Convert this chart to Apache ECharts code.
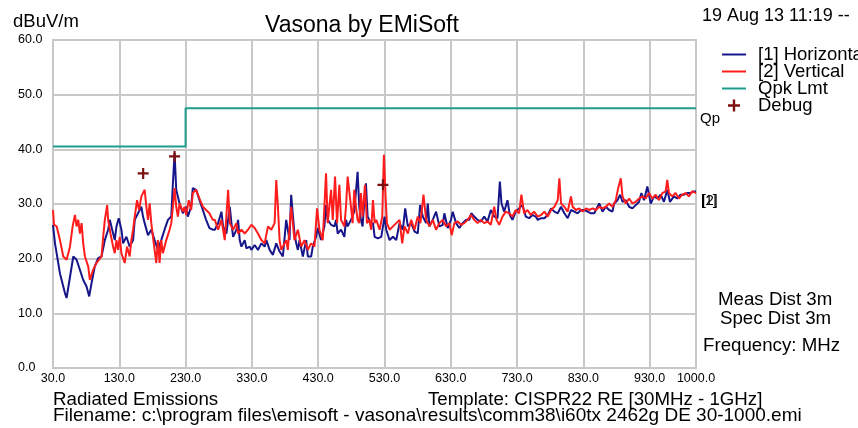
<!DOCTYPE html>
<html>
<head>
<meta charset="utf-8">
<script src="https://cdn.jsdelivr.net/npm/echarts@6/dist/echarts.min.js"></script>
<style>html,body{margin:0;padding:0;background:#fff}#c{width:858px;height:428px}</style>
</head>
<body>
<div id="c"></div>
<script>
// ---- data (frequency MHz, level dBuV/m) ----
const horizontalData = [[30,26.2],[33,22.8],[40.5,17.3],[48,13.7],[50.5,12.8],[60.6,20.4],[65.6,19.8],[75.6,16.1],[80.6,14.9],[84.6,13.1],[88.1,15.5],[93.1,18.6],[98.1,20.1],[103.2,20.4],[108.2,23.4],[113.2,25.3],[115.7,27.1],[120.7,24.6],[123.2,23.4],[125.7,25.9],[129.2,27.4],[133.2,25.3],[135.7,22.8],[140.7,24.0],[145.7,22.2],[150.8,23.4],[153.3,27.1],[158.3,28.3],[163.3,29.5],[165.8,27.7],[168.3,26.5],[173.3,24.3],[178.3,25.3],[183.3,23.4],[188.3,21.6],[193.3,23.4],[198.3,25.3],[203.4,27.1],[208.4,27.7],[210.9,33.8],[213.4,39.3],[215.9,32.6],[220.9,30.1],[225.9,28.3],[230.9,29.5],[233.4,27.7],[238.4,29.5],[240.9,32.9],[245.9,32.6],[251,30.7],[256,28.9],[261,27.1],[266,25.6],[271,25.3],
[274.1,25.3],[279.1,26.5],[284.1,28.6],[286.6,25.9],[291.6,24.6],[296.7,29.5],[299.2,26.5],[301.7,24.0],[306.7,25.3],[309.2,27.1],[311.7,23.4],[314.2,22.2],[319.2,23.4],[321.7,21.9],[326.7,22.2],[329.2,21.6],[334.2,22.5],[339.2,21.6],[344.3,22.8],[349.3,22.2],[351.8,23.4],[356.8,21.6],[361.8,20.7],[366.8,22.8],[371.8,21.3],[376.8,20.4],[381.8,27.1],[386.8,23.4],[389.3,31.7],[391.8,28.0],[394.3,24.6],[396.9,22.8],[399.4,21.6],[401.9,23.4],[406.9,20.4],[411.9,23.4],[414.4,20.4],[419.4,20.4],[421.9,22.2],[426.9,24.0],[429.4,25.6],[434.4,23.4],[439.4,25.9],[441.9,29.8],[444.4,27.1],[449.5,26.2],[454.5,25.9],[457,27.1],[459.5,24.6],[464.5,25.3],[469.5,24.0],[472,27.1],[474.5,25.9],[479.5,27.1],[484.5,28.6],[489.5,35.9],[492,29.5],[494.5,27.1],[497,25.9],[499.6,30.4],[502.1,33.8],[504.6,27.7],[509.6,26.5],
[512.7,26.5],[515.2,24.0],[520.2,23.7],[525.2,24.0],[530.2,27.7],[532.7,25.3],[537.8,23.4],[542.8,24.0],[547.8,23.4],[552.8,26.5],[557.8,25.3],[561.3,29.2],[565.3,25.9],[570.3,26.5],[575.3,25.0],[580.3,24.6],[583.8,29.8],[587.9,27.7],[592.9,26.5],[595.4,30.1],[597.9,25.9],[602.9,27.1],[607.9,28.6],[610.4,28.9],[612.9,25.9],[617.9,26.2],[620.4,28.3],[625.4,25.6],[630.4,27.1],[633,28.6],[638,26.5],[643,25.6],[648,26.5],[653,27.1],[658,27.1],[661,28.3],[665.5,27.7],[670.5,27.1],[675.5,26.8],[680.5,27.7],[685.5,26.8],[690.5,28.9],[695.6,27.7],[700.6,27.4],[704.1,34.1],[706.6,30.1],[710.6,28.6],[715.6,30.7],[719.1,28.0],[723.1,27.1],[728.1,28.6],[733.1,29.2],[738.2,29.8],[743.2,27.7],[748.2,27.4],[753.2,28.0],[758.2,27.7],
[761.3,27.1],[766.3,27.4],[771.3,27.4],[776.3,28.0],[781.4,29.2],[786.4,28.6],[791.4,28.3],[796.4,29.5],[801.4,28.3],[806.4,27.4],[811.4,28.9],[816.4,28.6],[821.4,28.3],[826.4,28.9],[831.5,28.9],[836.5,28.6],[841.5,28.3],[846.5,28.3],[854,30.1],[859,28.6],[864,29.5],[869,28.9],[874,28.6],[876.5,30.1],[881.6,30.7],[885.6,31.7],[889.1,30.4],[894.1,30.7],[899.1,29.5],[904.1,29.2],[909.1,29.8],[914.1,30.4],[917.6,32.0],[921.6,30.7],[926.6,33.2],[931.7,30.1],[936.7,31.4],[941.7,31.0],[946.7,31.7],[951.7,30.4],[956.7,32.6],[960.7,30.4],[966.7,31.4],[971.7,31.0],[976.7,31.7],[981.8,31.7],[986.8,32.0],[991.8,32.0],[995.8,32.3],[1000,32.3]];

const verticalData = [[30,28.9],[31.5,26.2],[35.5,25.9],[40.5,23.4],[45.5,20.4],[50.5,19.8],[55.6,22.2],[59.6,25.9],[63.1,28.0],[65.6,25.9],[68.1,27.1],[70.6,24.6],[73.1,26.5],[75.6,22.8],[78.1,20.4],[83.1,18.6],[85.6,16.1],[90.6,18.0],[95.6,19.2],[103.2,20.4],[105.7,24.0],[108.2,27.1],[111.7,29.8],[113.2,27.1],[116.7,24.6],[120.7,22.2],[123.2,21.0],[125.7,23.4],[128.2,21.6],[130.7,24.0],[133.2,21.0],[138.2,19.2],[141.7,22.2],[145.7,20.4],[148.2,23.4],[150.8,25.3],[153.3,27.7],[156.8,30.7],[159.8,28.9],[163.3,31.4],[168.3,32.6],[170.8,29.5],[173.3,27.1],[175.8,30.1],[178.3,26.5],[180.8,24.0],[183.3,21.6],[185.8,19.2],[188.3,23.4],[190.8,19.2],[193.3,23.4],[195.8,21.0],[200.9,23.4],[205.9,25.3],[208.4,26.5],[210.9,29.5],[213.4,32.9],[215.9,29.5],[218.4,27.7],[220.9,30.1],[225.9,28.6],[228.4,29.5],[230.9,28.0],[234.9,30.7],[238.4,28.9],[240.9,32.0],[245.9,32.6],[251,31.0],[256,29.5],[261,28.9],[266,28.3],[271,27.1],
[274.1,27.1],[279.1,25.3],[284.1,27.1],[289.1,23.4],[294.2,32.6],[296.7,26.5],[301.7,25.3],[306.7,26.5],[309.2,24.6],[314.2,25.3],[319.2,24.6],[324.2,25.3],[329.2,26.2],[334.2,25.6],[339.2,24.6],[344.3,23.4],[349.3,22.8],[354.3,25.9],[359.3,25.3],[364.3,26.5],[366.8,34.4],[369.3,29.5],[371.8,23.4],[374.3,21.6],[376.8,22.2],[381.8,23.4],[384.3,21.6],[389.3,29.5],[394.3,23.4],[399.4,25.3],[404.4,22.2],[409.4,23.4],[414.4,21.6],[419.4,22.8],[424.4,22.2],[428.4,29.2],[431.9,25.3],[436.9,23.4],[441.9,35.6],[444.4,26.5],[449.5,32.6],[452,27.1],[455.5,35.0],[458.5,26.5],[462,33.5],[464.5,27.1],[469.5,25.9],[472,29.5],[474.5,35.0],[477,34.7],[479.5,29.5],[482,26.5],[484.5,32.6],[487,29.5],[489.5,27.1],[492,26.5],[494.5,32.0],[497,27.7],[500.6,33.5],[503.6,26.5],[507.1,27.1],[510,25.3],[512.7,30.7],
[515.2,26.5],[517.7,27.1],[522.7,25.3],[526.7,27.7],[529.2,39.0],[531.7,31.4],[533.7,26.5],[537.8,25.3],[542.8,25.9],[547.8,26.5],[552.8,27.1],[556.8,22.8],[560.3,25.9],[565.3,24.6],[570.3,27.1],[575.3,25.3],[580.3,27.7],[584.3,26.5],[588.9,31.7],[592.9,27.1],[597.9,25.9],[602.9,27.1],[607.9,25.3],[612.9,26.5],[617.9,27.1],[622.9,25.9],[627.9,26.5],[631.4,24.3],[635.5,26.5],[640.5,26.8],[645.5,26.2],[650.5,26.5],[655.5,27.1],[660.5,28.0],[665.5,27.1],[670.5,26.5],[675.5,27.1],[680.5,26.5],[685.5,26.8],[690.5,26.2],[695.6,29.5],[699.1,27.1],[703.1,26.2],[708.1,27.7],[713.1,28.6],[718.1,28.3],[723.1,27.7],[728.1,28.9],[733.1,28.3],[736.6,31.7],[740.7,28.3],[745.7,28.9],[750.7,28.0],[755.7,28.6],
[761.3,27.7],[766.3,28.0],[771.3,28.6],[776.3,27.7],[781.4,28.9],[786.4,29.5],[791.4,30.7],[793.9,34.7],[796.4,30.1],[801.4,29.5],[806.4,28.6],[811.4,31.4],[813.9,29.5],[818.9,28.9],[823.9,29.2],[829,28.6],[834,29.2],[839,28.9],[844,29.2],[849,28.9],[854,29.5],[859,29.2],[864,29.5],[869,30.1],[874,29.5],[879,30.7],[882.6,32.9],[886.6,34.7],[889.1,31.4],[894.1,30.1],[899.1,31.0],[904.1,30.1],[909.1,30.4],[914.1,31.0],[919.1,31.4],[924.1,31.0],[929.1,32.0],[934.2,31.0],[939.2,31.7],[944.2,30.7],[949.2,32.0],[954.2,32.3],[956.7,34.4],[959.2,32.0],[964.2,31.4],[969.2,32.0],[974.2,31.0],[979.2,31.7],[984.2,32.0],[989.2,31.4],[994.3,32.3],[1000,32.0]];

const limitFreq = [30, 230, 230, 1000];
const limitLevel = [40.5, 40.5, 47.5, 47.5];
const debugFreq = [166, 213.4, 527.7];
const debugLevel = [35.6, 38.7, 33.5];
const seriesNames = ['[1] Horizontal', '[2] Vertical', 'Qpk Lmt', 'Debug'];
const freqStart = 30, freqStop = 1000, freqStep = 100;
const levelMin = 0, levelMax = 60, levelStep = 10;

// ---- chart ----
const F = "'Liberation Sans', Arial, sans-serif";
const GRID = '#c8c8c8';
const off = p => [p[0] - freqStart, p[1]];
const plus = 'path://M4,0H6V4H10V6H6V10H4V6H0V4H4Z';

const chart = echarts.init(document.getElementById('c'), null, {renderer: 'canvas'});
const txt = (t, x, y, size) => ({type: 'text', x: x, y: y, silent: true,
  style: {text: t, fill: '#000', fontSize: size, fontFamily: F}});

chart.setOption({
  animation: false,
  backgroundColor: '#ffffff',
  title: {text: 'Vasona by EMiSoft', left: 265, top: 14, padding: 0,
    textStyle: {fontFamily: F, fontSize: 23, fontWeight: 'normal', color: '#000'}},
  grid: {left: 53, right: 162, top: 40, bottom: 60, show: true, borderColor: GRID, borderWidth: 2},
  legend: {orient: 'vertical', left: 721, top: 45, padding: 0, itemWidth: 24, itemHeight: 12, itemGap: -2,
    data: [
      {name: seriesNames[0]}, {name: seriesNames[1]}, {name: seriesNames[2]},
      {name: seriesNames[3], itemStyle: {opacity: 1}}
    ],
    itemStyle: {opacity: 0},
    textStyle: {fontFamily: F, fontSize: 18.5, color: '#000', padding: [0, 0, 0, 7]}},
  xAxis: {type: 'value', min: 0, max: freqStop - freqStart, interval: freqStep,
    axisLine: {show: false}, axisTick: {show: false},
    splitLine: {lineStyle: {color: GRID, width: 2}},
    axisLabel: {formatter: v => (v + freqStart).toFixed(1), margin: 4, fontFamily: F, fontSize: 12.5,
      color: '#000', showMinLabel: true, showMaxLabel: true}},
  yAxis: {type: 'value', min: levelMin, max: levelMax, interval: levelStep,
    axisLine: {show: false}, axisTick: {show: false},
    splitLine: {lineStyle: {color: GRID, width: 2}},
    axisLabel: {formatter: v => v.toFixed(1), margin: 35, align: 'left', fontFamily: F, fontSize: 12.5,
      color: '#000', padding: [0, 0, 6, 0]}},
  series: [
    {name: seriesNames[0], type: 'line', symbol: 'none', data: horizontalData.map(off),
      lineStyle: {color: '#16168a', width: 2}, itemStyle: {color: '#16168a'}},
    {name: seriesNames[1], type: 'line', symbol: 'none', data: verticalData.map(off),
      lineStyle: {color: '#ff1c1c', width: 2}, itemStyle: {color: '#ff1c1c'}},
    {name: seriesNames[2], type: 'line', symbol: 'none',
      data: limitFreq.map((f, i) => [f - freqStart, limitLevel[i]]),
      lineStyle: {color: '#1f9c8c', width: 2}, itemStyle: {color: '#1f9c8c'}},
    {name: seriesNames[3], type: 'scatter', symbol: plus, symbolSize: 11, symbolKeepAspect: true,
      data: debugFreq.map((f, i) => [f - freqStart, debugLevel[i]]),
      itemStyle: {color: '#7d1010', opacity: 1}, z: 5}
  ],
  graphic: [
    txt('dBuV/m', 13, 12, 18.5),
    txt('19 Aug 13 11:19 --', 702, 7, 18),
    txt('Qp', 700, 111, 15),
    txt('[1]', 701, 194, 14),
    txt('[2]', 702, 194, 14),
    txt('Meas Dist 3m', 718, 290, 18.7),
    txt('Spec Dist 3m', 720, 309, 18.7),
    txt('Frequency: MHz', 703, 336, 18.7),
    txt('Radiated Emissions', 53, 390, 18.7),
    txt('Template: CISPR22 RE [30MHz - 1GHz]', 428, 390, 18.7),
    txt('Filename: c:\\program files\\emisoft - vasona\\results\\comm38\\i60tx 2462g DE 30-1000.emi', 53, 406, 19)
  ]
});
</script>
</body>
</html>
